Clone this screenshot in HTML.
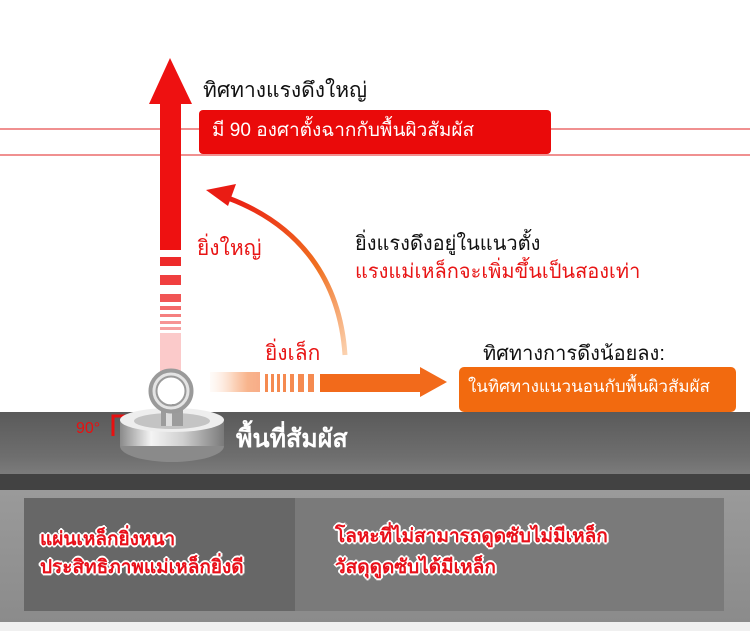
<!DOCTYPE html>
<html><head><meta charset="utf-8"><style>
html,body{margin:0;padding:0}
body{width:750px;height:631px;position:relative;overflow:hidden;background:#fff;font-family:"Liberation Sans","DejaVu Sans",sans-serif}
.t{position:absolute;white-space:nowrap;line-height:1}
.o{color:#e8101a;text-shadow:-1px -1px 0 #fff,1px -1px 0 #fff,-1px 1px 0 #fff,1px 1px 0 #fff,0 2px 0 #fff,2px 0 0 #fff,-2px 0 0 #fff,0 -2px 0 #fff;font-weight:bold}
</style></head><body>
<svg width="750" height="631" style="position:absolute;left:0;top:0">
<defs>
<linearGradient id="band" x1="0" y1="0" x2="0" y2="1"><stop offset="0" stop-color="#5a5a5a"/><stop offset="0.7" stop-color="#6e6e6e"/><stop offset="1" stop-color="#7c7c7c"/></linearGradient>
<linearGradient id="low" x1="0" y1="0" x2="0" y2="1"><stop offset="0" stop-color="#9a9a9a"/><stop offset="1" stop-color="#8a8a8a"/></linearGradient>
<linearGradient id="harr" x1="0" y1="0" x2="1" y2="0"><stop offset="0" stop-color="#fde5d6" stop-opacity="0.3"/><stop offset="0.5" stop-color="#f7a26e"/><stop offset="0.75" stop-color="#f26a1b"/><stop offset="1" stop-color="#f05a10"/></linearGradient>
<linearGradient id="curv" x1="1" y1="1" x2="0" y2="0"><stop offset="0" stop-color="#fbd2b0"/><stop offset="0.4" stop-color="#f07020"/><stop offset="1" stop-color="#ea1c14"/></linearGradient>
<linearGradient id="disk" x1="0" y1="0" x2="1" y2="0"><stop offset="0" stop-color="#8a8a8a"/><stop offset="0.3" stop-color="#f4f4f4"/><stop offset="0.6" stop-color="#d0d0d0"/><stop offset="1" stop-color="#7a7a7a"/></linearGradient>
</defs>
<line x1="0" y1="129" x2="750" y2="129" stroke="#e02020" stroke-width="1"/>
<line x1="0" y1="155" x2="750" y2="155" stroke="#e02020" stroke-width="1"/>
<polygon points="170,58 192,104 181,104 181,250 160,250 160,104 149,104" fill="#ee1111"/>
<g fill="#ee2a2a">
<rect x="160" y="257" width="21" height="9"/>
<rect x="160" y="275" width="21" height="10" opacity="0.9"/>
<rect x="160" y="294" width="21" height="8" opacity="0.8"/>
<rect x="160" y="306" width="21" height="4" opacity="0.7"/>
<rect x="160" y="314" width="21" height="3" opacity="0.6"/>
<rect x="160" y="321" width="21" height="3" opacity="0.5"/>
<rect x="160" y="327" width="21" height="3" opacity="0.45"/>
<rect x="160" y="333" width="21" height="40" opacity="0.25"/>
</g>
<path d="M345,355 C340,280 300,225 228,198" fill="none" stroke="url(#curv)" stroke-width="5"/>
<polygon points="206,190 236,184 228,206" fill="#ea1c14"/>
<rect x="210" y="372" width="50" height="20" fill="url(#harr)" opacity="0.5"/>
<g fill="#f58a50"><rect x="265" y="374" width="3" height="18"/><rect x="271" y="374" width="3" height="18"/><rect x="277" y="374" width="3" height="18"/><rect x="283" y="374" width="3" height="18"/><rect x="290" y="374" width="4" height="18"/><rect x="298" y="374" width="6" height="18"/><rect x="308" y="374" width="6" height="18"/></g>
<rect x="320" y="374" width="104" height="18" fill="#f26a1b"/>
<polygon points="420,367 447,382 420,397" fill="#f26a1b"/>
<rect x="199" y="110" width="352" height="44" rx="4" fill="#ea0a0a"/>
<rect x="459" y="367" width="277" height="45" rx="5" fill="#f26a0f"/>
<rect x="0" y="412" width="750" height="63" fill="url(#band)"/>
<rect x="0" y="474" width="750" height="17" fill="#424242"/>
<rect x="0" y="490" width="750" height="141" fill="url(#low)"/>
<rect x="24" y="498" width="700" height="113" fill="#7a7a7a"/>
<rect x="24" y="498" width="271" height="113" fill="#676767"/>
<rect x="0" y="622" width="750" height="9" fill="#f0f0f0"/>
<path d="M113,436 V416 H125" fill="none" stroke="#e81010" stroke-width="3"/>
<!-- magnet -->
<ellipse cx="172" cy="446" rx="52" ry="16" fill="#8a8a8a"/>
<rect x="120" y="420" width="104" height="26" fill="url(#disk)"/>
<ellipse cx="172" cy="420" rx="52" ry="12" fill="#eeeeee"/>
<ellipse cx="172" cy="421" rx="38" ry="8" fill="#c4c4c4"/>
<rect x="161" y="404" width="22" height="22" fill="#9c9c9c"/>
<rect x="166" y="404" width="6" height="22" fill="#dedede"/>
<circle cx="171" cy="391" r="18" fill="none" stroke="#9a9a9a" stroke-width="9"/>
<circle cx="171" cy="391" r="17" fill="none" stroke="#e4e4e4" stroke-width="3"/>
</svg>
<div class="t" style="left:203px;top:80px;font-size:21px;color:#111">ทิศทางแรงดึงใหญ่</div>
<div class="t" style="left:212px;top:121px;font-size:19px;color:#fff">มี 90 องศาตั้งฉากกับพื้นผิวสัมผัส</div>
<div class="t" style="left:197px;top:238px;font-size:21px;color:#e81515">ยิ่งใหญ่</div>
<div class="t" style="left:355px;top:234px;font-size:20px;color:#111">ยิ่งแรงดึงอยู่ในแนวตั้ง</div>
<div class="t" style="left:355px;top:262px;font-size:20px;color:#e81515">แรงแม่เหล็กจะเพิ่มขึ้นเป็นสองเท่า</div>
<div class="t" style="left:265px;top:343px;font-size:21px;color:#e81515">ยิ่งเล็ก</div>
<div class="t" style="left:483px;top:344px;font-size:20px;color:#111">ทิศทางการดึงน้อยลง:</div>
<div class="t" style="left:468px;top:378px;font-size:17px;color:#fff">ในทิศทางแนวนอนกับพื้นผิวสัมผัส</div>
<div class="t" style="left:76px;top:421px;font-size:16px;color:#e81010">90°</div>
<div class="t" style="left:236px;top:427px;font-size:25px;color:#fff;font-weight:bold">พื้นที่สัมผัส</div>
<div class="t o" style="left:40px;top:530px;font-size:19px">แผ่นเหล็กยิ่งหนา</div>
<div class="t o" style="left:40px;top:558px;font-size:19px">ประสิทธิภาพแม่เหล็กยิ่งดี</div>
<div class="t o" style="left:335px;top:527px;font-size:19px">โลหะที่ไม่สามารถดูดซับไม่มีเหล็ก</div>
<div class="t o" style="left:335px;top:558px;font-size:19px">วัสดุดูดซับได้มีเหล็ก</div>
</body></html>
